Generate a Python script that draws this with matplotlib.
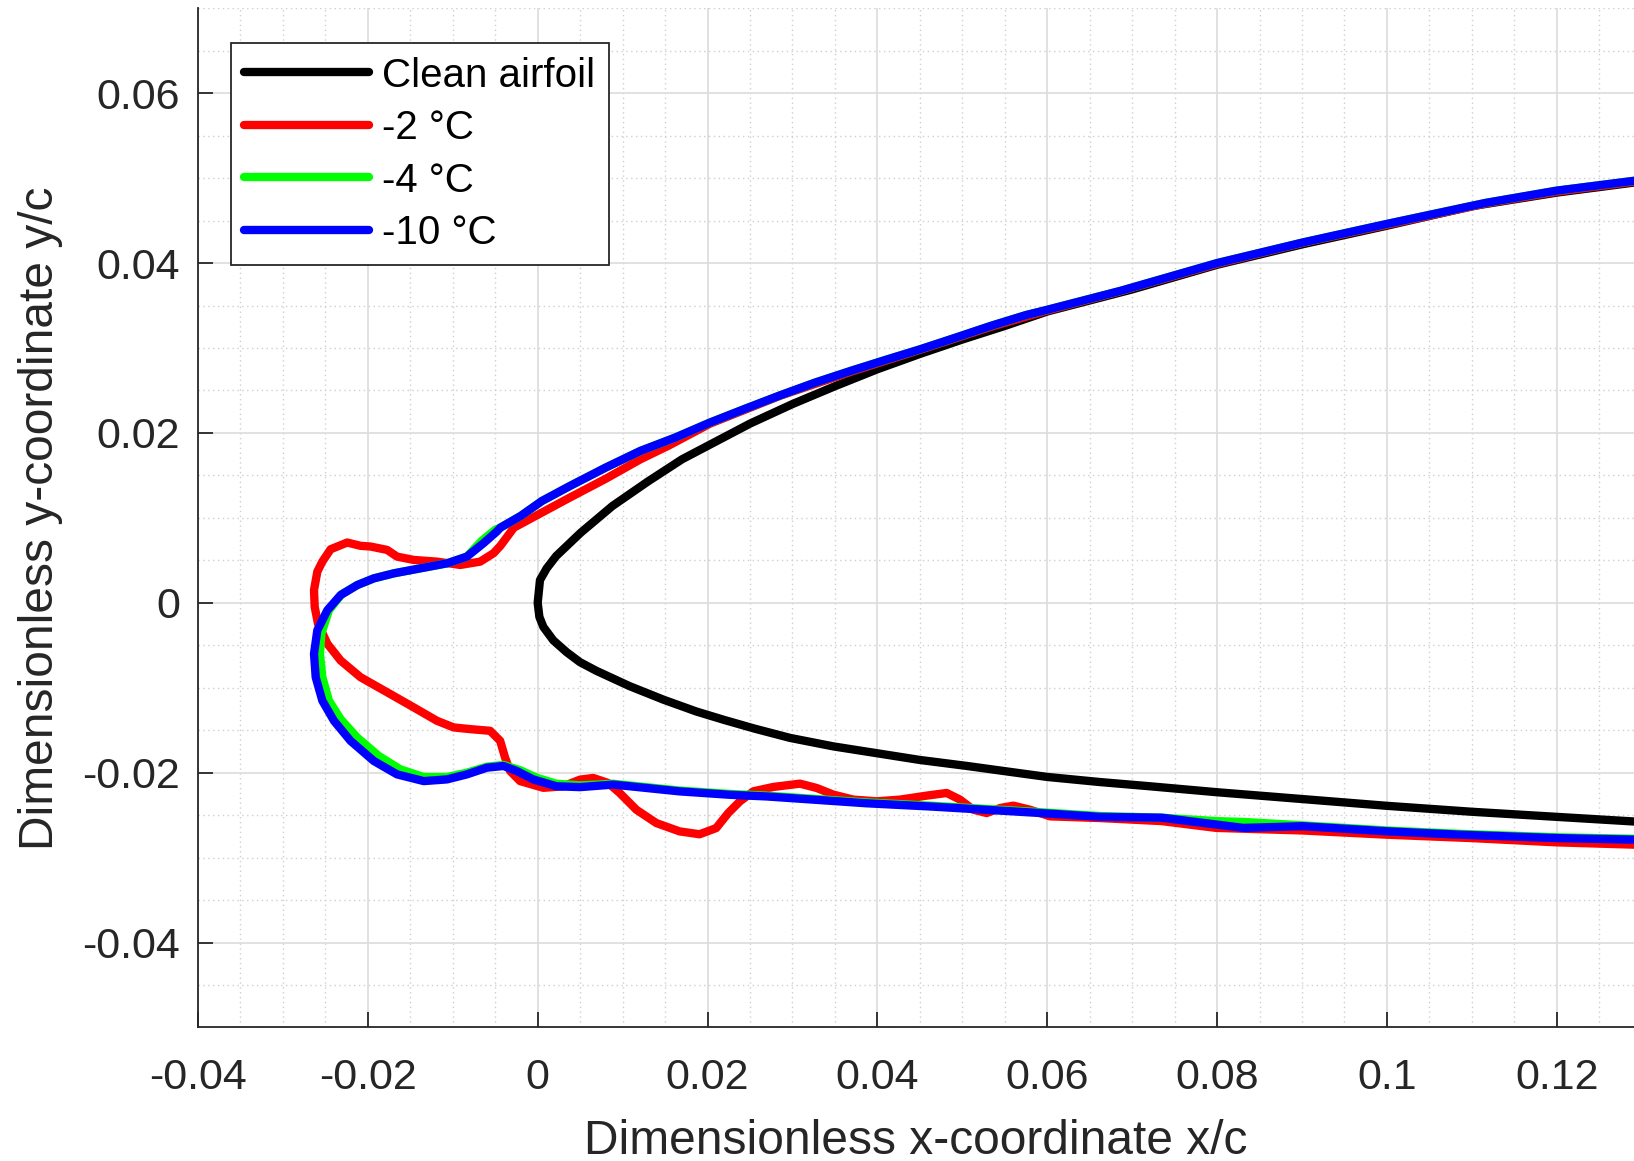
import matplotlib
matplotlib.use('Agg')
import matplotlib.pyplot as plt
from matplotlib.ticker import MultipleLocator, FuncFormatter

plt.rcParams['font.family'] = ['Liberation Sans', 'DejaVu Sans']
plt.rcParams['axes.unicode_minus'] = False

# --- contours, listed from upper surface (right) round the leading edge to lower surface ---
clean_x = [0.130, 0.120, 0.110, 0.100, 0.090, 0.080, 0.070, 0.060, 0.055, 0.050, 0.045,
           0.040, 0.035, 0.030, 0.025, 0.021, 0.017, 0.013, 0.0088, 0.00506, 0.00217,
           0.00106, 0.00027, 0.0, 0.0002, 0.00067, 0.00184, 0.0034, 0.00497, 0.0069, 0.0108,
           0.0148, 0.0187, 0.0220, 0.0255, 0.0297, 0.0348, 0.0399, 0.0450, 0.0505, 0.0556,
           0.0600, 0.0662, 0.0721, 0.080, 0.090, 0.100, 0.110, 0.120, 0.130]
clean_y = [0.0496, 0.0483, 0.0467, 0.0444, 0.0422, 0.0398, 0.0369, 0.0343, 0.0326, 0.0310, 0.0293,
           0.0275, 0.0255, 0.0234, 0.0211, 0.0190, 0.0169, 0.0143, 0.0114, 0.00825, 0.0055,
           0.00406, 0.00268, 0.0, -0.00166, -0.00284, -0.00442, -0.0058, -0.00698, -0.0080, -0.0098,
           -0.0114, -0.0128, -0.0138, -0.0148, -0.0159, -0.0169, -0.0177, -0.0185, -0.0192, -0.0199,
           -0.0205, -0.0211, -0.0216, -0.0223, -0.0231, -0.0239, -0.0246, -0.0252, -0.0258]

m2_x = [0.130, 0.120, 0.1116, 0.100, 0.0902, 0.080, 0.0687, 0.060, 0.0534, 0.0451, 0.0369,
        0.0286, 0.0203, 0.0154, 0.0121, 0.0080, 0.0038, -0.0003, -0.0028, -0.0044, -0.0052,
        -0.00677, -0.00912, -0.01186, -0.0146, -0.01656, -0.01773, -0.01969, -0.02086, -0.02243,
        -0.02438, -0.02536, -0.02595, -0.02634, -0.02626, -0.02587, -0.02477, -0.02321, -0.02086,
        -0.01773, -0.0146, -0.01186, -0.0099, -0.00795, -0.0056, -0.00442, -0.00384, -0.00325,
        -0.00207, 0.00067, 0.00301, 0.00497, 0.00654, 0.0083, 0.00967, 0.01162, 0.01397, 0.01671,
        0.01906, 0.02102, 0.02244, 0.02382, 0.0254, 0.02774, 0.03088, 0.03285, 0.03481, 0.03717,
        0.03991, 0.04267, 0.04581, 0.04816, 0.04973, 0.0513, 0.05287, 0.05444, 0.05601, 0.05797,
        0.06033, 0.06622, 0.0735, 0.0799, 0.090, 0.100, 0.110, 0.120, 0.130]
m2_y = [0.0497, 0.0484, 0.0470, 0.0445, 0.0424, 0.0399, 0.0367, 0.0344, 0.0325, 0.0298, 0.0272,
        0.0244, 0.0211, 0.0185, 0.0169, 0.0146, 0.0124, 0.0102, 0.00885, 0.0067, 0.00584,
        0.00485, 0.00446, 0.00485, 0.00505, 0.00544, 0.00623, 0.00663, 0.00671, 0.0071,
        0.00631, 0.00485, 0.00367, 0.0015, -0.00047, -0.00245, -0.00481, -0.00679, -0.00876,
        -0.01053, -0.01231, -0.01389, -0.01467, -0.01487, -0.01507, -0.01625, -0.01822, -0.0198,
        -0.02099, -0.02178, -0.0216, -0.02082, -0.02062, -0.02121, -0.0224, -0.02436, -0.02593,
        -0.02691, -0.02725, -0.02652, -0.02475, -0.02337, -0.02219, -0.02168, -0.02129, -0.0218,
        -0.02258, -0.02317, -0.02337, -0.02317, -0.0227, -0.02239, -0.02317, -0.02436, -0.02475,
        -0.02416, -0.02388, -0.02436, -0.02514, -0.02534, -0.0257, -0.0265, -0.0268, -0.0273,
        -0.0277, -0.0282, -0.0285]

m4_x = [0.130, 0.120, 0.1116, 0.100, 0.0902, 0.080, 0.0687, 0.060, 0.0575, 0.0534, 0.0493,
        0.0451, 0.0410, 0.0369, 0.0327, 0.0286, 0.0245, 0.0203, 0.0162, 0.0121, 0.0080, 0.0038,
        0.0005, -0.0020, -0.0044, -0.0050, -0.0066, -0.00834, -0.01068, -0.01382, -0.01695,
        -0.0193, -0.02125, -0.0231, -0.02458, -0.02548, -0.02564, -0.02536, -0.02458, -0.02321,
        -0.02125, -0.01871, -0.01616, -0.01342, -0.01068, -0.00834, -0.00599, -0.00403, -0.00207,
        -0.0001, 0.0022, 0.0050, 0.0089, 0.0128, 0.0167, 0.0226, 0.0270, 0.0387, 0.0466, 0.0584,
        0.0662, 0.0735, 0.0799, 0.0831, 0.0901, 0.100, 0.1086, 0.120, 0.130]
m4_y = [0.0498, 0.04853, 0.04708, 0.04461, 0.04245, 0.0400, 0.03675, 0.0345, 0.03388, 0.03262, 0.03125,
        0.02987, 0.02861, 0.02732, 0.02594, 0.02445, 0.02288, 0.02123, 0.01946, 0.01789, 0.01592, 0.01376,
        0.01199, 0.01023, 0.00885, 0.0086, 0.0073, 0.00544, 0.00465, 0.00406, 0.00347,
        0.00288, 0.00209, 0.0010, -0.00087, -0.00363, -0.0060, -0.00876, -0.01152, -0.01369,
        -0.01586, -0.01803, -0.01961, -0.02051, -0.02051, -0.0200, -0.01929, -0.01909, -0.0197,
        -0.0206, -0.0213, -0.0215, -0.0213, -0.0217, -0.0221, -0.0225, -0.0227, -0.0235, -0.0239, -0.0246,
        -0.0251, -0.0253, -0.0257, -0.0258, -0.0262, -0.0268, -0.0272, -0.0276, -0.0278]

m10_x = [0.130, 0.120, 0.1116, 0.100, 0.0902, 0.080, 0.0687, 0.060, 0.0575, 0.0534, 0.0493,
         0.0451, 0.0410, 0.0369, 0.0327, 0.0286, 0.0245, 0.0203, 0.0162, 0.0121, 0.0080, 0.0038,
         0.0005, -0.0020, -0.0044, -0.00481, -0.00638, -0.00834, -0.01068, -0.01382, -0.01695,
         -0.0193, -0.02125, -0.02321, -0.02477, -0.02595, -0.02634, -0.02614, -0.02536, -0.02399,
         -0.02204, -0.0193, -0.01656, -0.01342, -0.01068, -0.00834, -0.00599, -0.00403, -0.00247,
         -0.0005, 0.0022, 0.0050, 0.0089, 0.0128, 0.0167, 0.0226, 0.0270, 0.0387, 0.0466, 0.0584,
         0.0662, 0.0735, 0.0799, 0.0831, 0.0901, 0.100, 0.1086, 0.120, 0.130]
m10_y = [0.0498, 0.04853, 0.04708, 0.04461, 0.04245, 0.0400, 0.03675, 0.0345, 0.03388, 0.03262, 0.03125,
         0.02987, 0.02861, 0.02732, 0.02594, 0.02445, 0.02288, 0.02123, 0.01946, 0.01789, 0.01592, 0.01376,
         0.01199, 0.01023, 0.00885, 0.0084, 0.00702, 0.00544, 0.00465, 0.00406, 0.00347,
         0.00288, 0.00209, 0.00091, -0.00087, -0.00323, -0.0060, -0.00876, -0.01152, -0.01389,
         -0.01625, -0.01862, -0.0202, -0.02099, -0.02079, -0.0202, -0.01941, -0.01921, -0.0198,
         -0.0208, -0.0216, -0.0217, -0.0214, -0.0218, -0.0222, -0.0226, -0.0228, -0.0236, -0.0240, -0.0247,
         -0.0252, -0.0253, -0.0261, -0.0265, -0.0263, -0.0269, -0.0273, -0.0277, -0.0279]

series = [
    (clean_x, clean_y, 'k', 'Clean airfoil'),
    (m2_x, m2_y, '#ff0000', '-2 °C'),
    (m4_x, m4_y, '#00ff00', '-4 °C'),
    (m10_x, m10_y, '#0000ff', '-10 °C'),
]

TXT = '#262626'

fig = plt.figure(figsize=(16.34, 11.61), dpi=100)
ax = fig.add_axes([0.12118, 0.11499, 0.87882, 0.87787])

for xs, ys, col, lab in series:
    ax.plot(xs, ys, color=col, lw=6.0, label=lab, solid_joinstyle='round', solid_capstyle='round')

ax.set_xlim(-0.04, 0.1291)
ax.set_ylim(-0.05, 0.07)

ax.xaxis.set_major_locator(MultipleLocator(0.02))
ax.yaxis.set_major_locator(MultipleLocator(0.02))
ax.xaxis.set_minor_locator(MultipleLocator(0.005))
ax.yaxis.set_minor_locator(MultipleLocator(0.005))
fmt = FuncFormatter(lambda v, p: '%g' % round(v, 4))
ax.xaxis.set_major_formatter(fmt)
ax.yaxis.set_major_formatter(fmt)

ax.grid(True, which='major', color='#dcdcdc', lw=1.2)
ax.grid(True, which='minor', color='#cfcfcf', lw=1.0, ls=(0, (1, 2.5)))
ax.set_axisbelow(True)

for s in ['top', 'right']:
    ax.spines[s].set_visible(False)
for s in ['left', 'bottom']:
    ax.spines[s].set_color(TXT)
    ax.spines[s].set_linewidth(1.3)

ax.tick_params(which='major', direction='in', length=10.5, width=1.3, color=TXT,
               labelcolor=TXT, labelsize=31)
ax.tick_params(axis='x', which='major', pad=22)
ax.tick_params(axis='y', which='major', pad=13)
ax.tick_params(which='minor', length=0)

ax.set_xlabel('Dimensionless x-coordinate x/c', fontsize=34.5, color=TXT, labelpad=15)
ax.set_ylabel('Dimensionless y-coordinate y/c', fontsize=34.5, color=TXT, labelpad=14)

leg = ax.legend(loc='upper left', bbox_to_anchor=(0.023, 0.9657), borderaxespad=0,
                fontsize=29, frameon=True, fancybox=False, handlelength=3.1,
                handletextpad=0.33, labelspacing=0.36, borderpad=0.33)
leg.get_frame().set_edgecolor(TXT)
leg.get_frame().set_linewidth(1.3)
leg.get_frame().set_alpha(1)
for t in leg.get_texts():
    t.set_color('k')

fig.savefig('out.png', dpi=100)
